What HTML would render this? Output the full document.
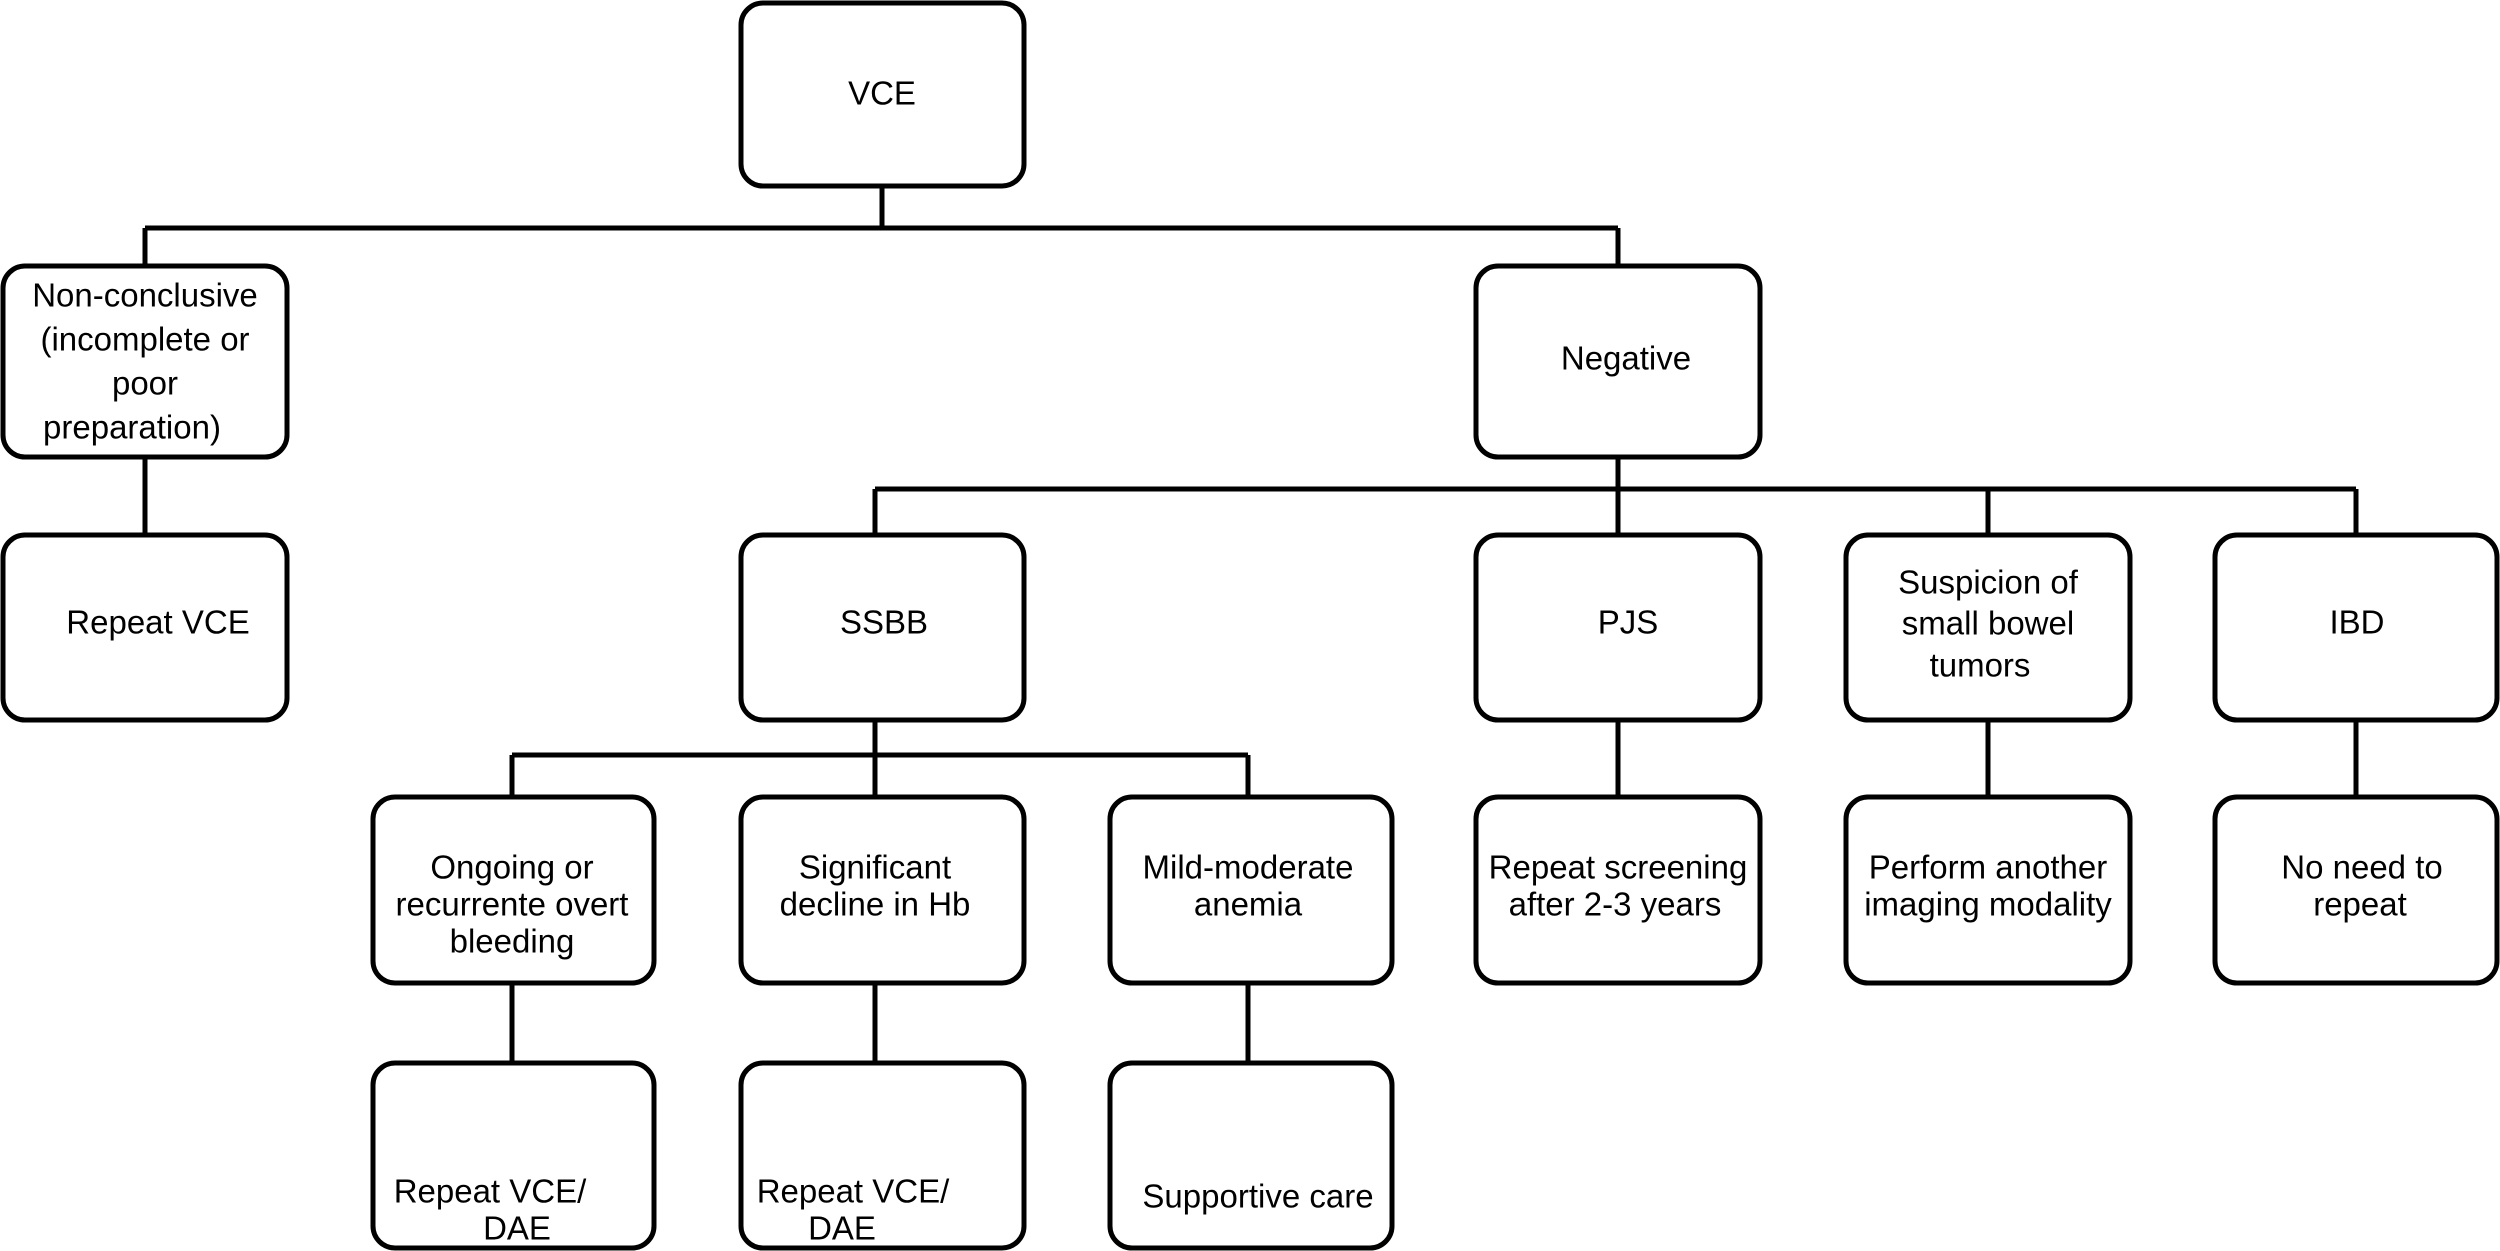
<!DOCTYPE html>
<html><head><meta charset="utf-8"><style>
html,body{margin:0;padding:0;background:#fff;}
svg{display:block;}
text{font-family:"Liberation Sans",Arial,sans-serif;font-size:33px;fill:#000;text-anchor:middle;dominant-baseline:middle;}
</style></head><body>
<svg width="2500" height="1251" viewBox="0 0 2500 1251" xmlns="http://www.w3.org/2000/svg">
<g fill="none" stroke="#000" stroke-width="5">
<path d="M882 186 V228 M145 228 H1618 M145 228 V266 M1618 228 V266"/>
<path d="M145 457 V535"/>
<path d="M1618 457 V489 M875 489 H2356 M875 489 V535 M1618 489 V535 M1988 489 V535 M2356 489 V535"/>
<path d="M875 720 V755 M512 755 H1248 M512 755 V797 M875 755 V797 M1248 755 V797"/>
<path d="M512 983 V1063 M875 983 V1063 M1248 983 V1063"/>
<path d="M1618 720 V797 M1988 720 V797 M2356 720 V797"/>
<rect x="741" y="3" width="283" height="183" rx="22"/>
<rect x="3" y="266" width="284" height="191" rx="22"/>
<rect x="1476" y="266" width="284" height="191" rx="22"/>
<rect x="3" y="535" width="284" height="185" rx="22"/>
<rect x="741" y="535" width="283" height="185" rx="22"/>
<rect x="1476" y="535" width="284" height="185" rx="22"/>
<rect x="1846" y="535" width="284" height="185" rx="22"/>
<rect x="2215" y="535" width="282" height="185" rx="22"/>
<rect x="373" y="797" width="281" height="186" rx="22"/>
<rect x="741" y="797" width="283" height="186" rx="22"/>
<rect x="1110" y="797" width="282" height="186" rx="22"/>
<rect x="1476" y="797" width="284" height="186" rx="22"/>
<rect x="1846" y="797" width="284" height="186" rx="22"/>
<rect x="2215" y="797" width="282" height="186" rx="22"/>
<rect x="373" y="1063" width="281" height="185" rx="22"/>
<rect x="741" y="1063" width="283" height="185" rx="22"/>
<rect x="1110" y="1063" width="282" height="185" rx="22"/>
</g>
<text x="882" y="96">VCE</text>
<text x="145" y="298">Non-conclusive</text>
<text x="145" y="342">(incomplete or</text>
<text x="145" y="386">poor</text>
<text x="132" y="430">preparation)</text>
<text x="1626" y="361">Negative</text>
<text x="158" y="625">Repeat VCE</text>
<text x="884" y="625">SSBB</text>
<text x="1628" y="625">PJS</text>
<text x="1988" y="585">Suspicion of</text>
<text x="1988" y="626">small bowel</text>
<text x="1980" y="668">tumors</text>
<text x="2357" y="625">IBD</text>
<text x="512" y="870">Ongoing or</text>
<text x="512" y="907">recurrente overt</text>
<text x="512" y="944">bleeding</text>
<text x="875" y="870">Significant</text>
<text x="875" y="907">decline in Hb</text>
<text x="1248" y="870">Mild-moderate</text>
<text x="1248" y="907">anemia</text>
<text x="1618" y="870">Repeat screening</text>
<text x="1615" y="907">after 2-3 years</text>
<text x="1988" y="870">Perform another</text>
<text x="1988" y="907">imaging modality</text>
<text x="2362" y="870">No need to</text>
<text x="2360" y="907">repeat</text>
<text x="490" y="1194">Repeat VCE/</text>
<text x="517" y="1231">DAE</text>
<text x="853" y="1194">Repeat VCE/</text>
<text x="842" y="1231">DAE</text>
<text x="1258" y="1199">Supportive care</text>
</svg>
</body></html>
